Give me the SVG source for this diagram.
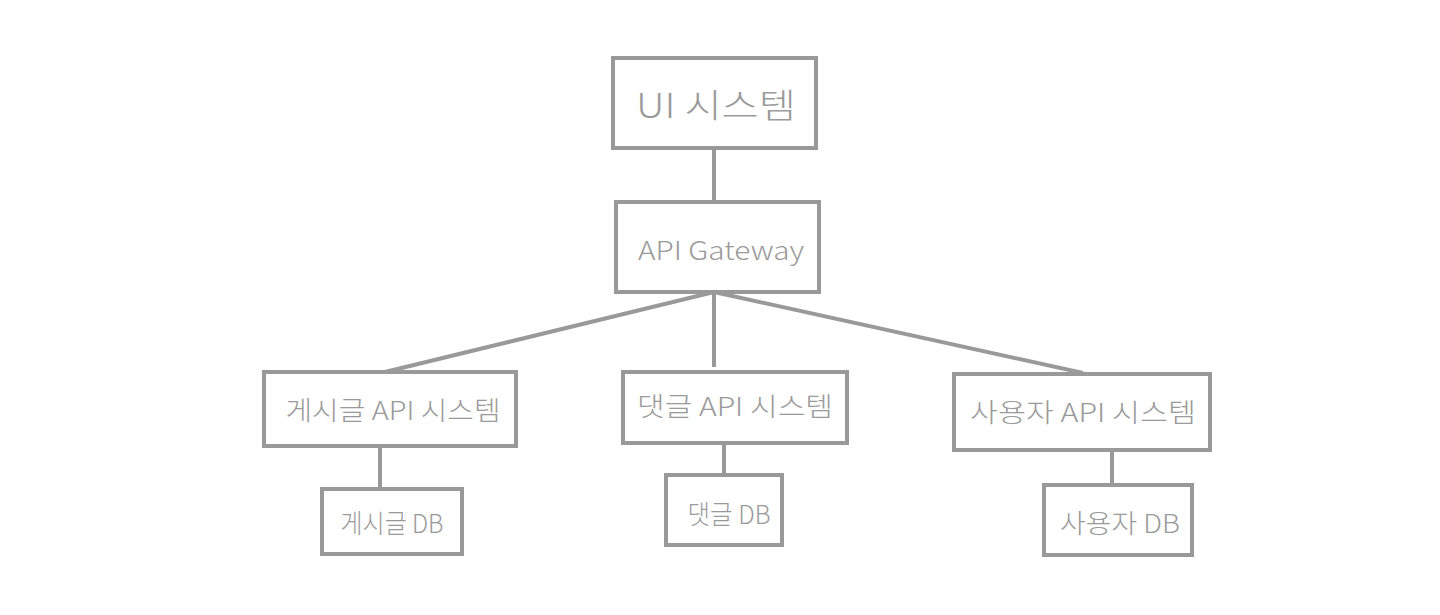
<svg xmlns="http://www.w3.org/2000/svg" width="1440" height="615" viewBox="0 0 1440 615">
<style>
.box{fill:#ffffff;stroke:#999999;stroke-width:4}
.edge{stroke:#999999;stroke-width:4;fill:none}
.lbl{fill:#9a9a9a;font-family:"Noto Sans CJK KR","Noto Sans",sans-serif;font-weight:300;text-anchor:middle;dominant-baseline:central}
.big{font-size:34px}
.mid{font-size:26px}
</style>
<rect width="1440" height="615" fill="#ffffff"/>
<g id="connectors">
<line class="edge" x1="714" y1="148" x2="714" y2="202"/>
<line class="edge" x1="714" y1="292" x2="385" y2="372"/>
<line class="edge" x1="714" y1="292" x2="714" y2="367"/>
<line class="edge" x1="714" y1="292" x2="1083" y2="373"/>
<line class="edge" x1="380" y1="446" x2="380" y2="489"/>
<line class="edge" x1="724" y1="443" x2="724" y2="475"/>
<line class="edge" x1="1112" y1="450" x2="1112" y2="485"/>
</g>
<g id="ui">
<rect class="box" x="613" y="58" width="203" height="90"/>
<text class="lbl big" x="716" y="103" textLength="160" lengthAdjust="spacingAndGlyphs">UI 시스템</text>
</g>
<g id="gateway">
<rect class="box" x="616" y="202" width="203" height="90"/>
<text class="lbl mid" x="721" y="248" textLength="166" lengthAdjust="spacingAndGlyphs">API Gateway</text>
</g>
<g id="post-api">
<rect class="box" x="264" y="372" width="252" height="74"/>
<text class="lbl mid" x="393" y="408" textLength="215" lengthAdjust="spacingAndGlyphs">게시글 API 시스템</text>
</g>
<g id="comment-api">
<rect class="box" x="623" y="372" width="224" height="71"/>
<text class="lbl mid" x="735" y="404" textLength="196" lengthAdjust="spacingAndGlyphs">댓글 API 시스템</text>
</g>
<g id="user-api">
<rect class="box" x="954" y="374" width="256" height="76"/>
<text class="lbl mid" x="1083" y="410" textLength="226" lengthAdjust="spacingAndGlyphs">사용자 API 시스템</text>
</g>
<g id="post-db">
<rect class="box" x="322" y="489" width="140" height="65"/>
<text class="lbl mid" x="392" y="521" textLength="103" lengthAdjust="spacingAndGlyphs">게시글 DB</text>
</g>
<g id="comment-db">
<rect class="box" x="666" y="475" width="116" height="70"/>
<text class="lbl mid" x="729" y="512" textLength="83" lengthAdjust="spacingAndGlyphs">댓글 DB</text>
</g>
<g id="user-db">
<rect class="box" x="1044" y="485" width="148" height="70"/>
<text class="lbl mid" x="1120" y="521" textLength="120" lengthAdjust="spacingAndGlyphs">사용자 DB</text>
</g>
</svg>
